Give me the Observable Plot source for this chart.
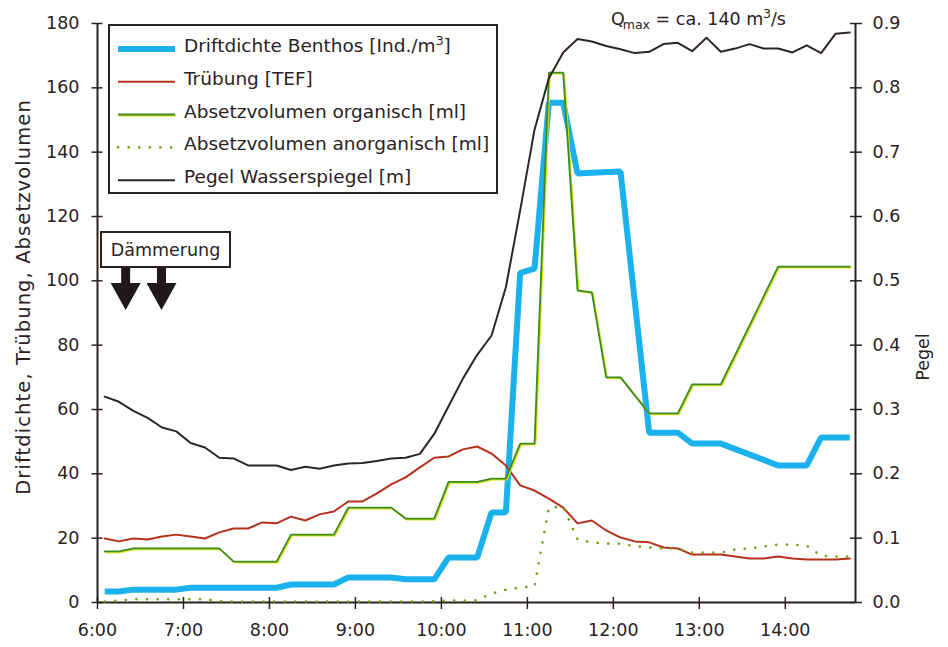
<!DOCTYPE html>
<html>
<head>
<meta charset="utf-8">
<script src="https://cdn.jsdelivr.net/npm/d3@7"></script>
<script src="https://cdn.jsdelivr.net/npm/@observablehq/plot@0.6"></script>
<style>
  html, body { margin: 0; padding: 0; background: #fff; }
  svg { display: block; }
</style>
</head>
<body>
<div id="chart"></div>
<script>
// ---------- data ----------
const hourTicks = [6, 7, 8, 9, 10, 11, 12, 13, 14];
const leftTicks = [0, 20, 40, 60, 80, 100, 120, 140, 160, 180];
const pegelTicks = [0, 0.1, 0.2, 0.3, 0.4, 0.5, 0.6, 0.7, 0.8, 0.9];

const sampleTimes = ["6:05","6:15","6:25","6:35","6:45","6:55","7:05","7:15","7:25","7:35","7:45","7:55",
  "8:05","8:15","8:25","8:35","8:45","8:55","9:05","9:15","9:25","9:35","9:45","9:55",
  "10:05","10:15","10:25","10:35","10:45","10:55","11:05","11:15","11:25","11:35","11:45","11:55",
  "12:05","12:15","12:25","12:35","12:45","12:55","13:05","13:15","13:25","13:35","13:45","13:55",
  "14:05","14:15","14:25","14:35","14:45"];

// Trübung [TEF]
const truebung = [19.9,19.0,19.9,19.6,20.5,21.1,20.5,19.9,21.8,23.0,23.0,24.9,
  24.6,26.7,25.5,27.4,28.3,31.4,31.4,33.9,36.7,38.9,42.0,45.0,
  45.4,47.6,48.5,46.3,42.6,36.4,34.8,32.3,29.5,24.6,25.5,22.4,
  20.2,19.0,18.7,17.1,16.8,14.9,14.9,14.9,14.3,13.7,13.7,14.3,
  13.7,13.4,13.4,13.4,13.7];

// Absetzvolumen anorganisch [ml]
const anorganisch = [0.3,0.6,1.0,1.0,1.0,1.0,1.0,1.0,0.4,0.3,0.3,0.3,
  0.3,0.3,0.3,0.3,0.3,0.3,0.3,0.3,0.3,0.3,0.3,0.4,
  0.6,0.6,0.7,2.8,4.0,4.6,5.0,29.5,29.8,19.6,18.7,18.3,
  18.3,17.5,17.1,16.8,16.8,15.5,15.5,15.5,16.5,16.8,17.4,18.0,
  18.0,17.7,14.5,14.3,14.3];

// Pegel Wasserspiegel [m]
const pegel = [0.320,0.312,0.298,0.287,0.272,0.266,0.248,0.241,0.225,0.224,0.213,0.213,
  0.213,0.206,0.211,0.208,0.213,0.216,0.217,0.220,0.224,0.225,0.231,0.262,
  0.305,0.348,0.385,0.415,0.490,0.610,0.735,0.815,0.855,0.876,0.872,0.865,
  0.860,0.854,0.856,0.868,0.870,0.857,0.878,0.856,0.861,0.868,0.861,0.861,
  0.855,0.866,0.854,0.884,0.886];

// Absetzvolumen organisch [ml]
const organischTimes = ["6:05","6:15","6:25","7:25","7:35","8:05","8:15","8:45","8:55","9:25","9:35","9:55",
  "10:05","10:25","10:35","10:45","10:55","11:05","11:15","11:25","11:35","11:45","11:55","12:05",
  "12:25","12:45","12:55","13:15","13:55","14:45"];
const organisch = [15.9,15.9,16.8,16.8,12.7,12.7,21.1,21.1,29.5,29.5,26.1,26.1,
  37.5,37.5,38.5,38.5,49.4,49.4,164.7,164.7,97.0,96.4,70.0,70.0,
  58.8,58.8,67.8,67.8,104.4,104.4];

// Driftdichte Benthos [Ind./m3]
const driftTimes = ["6:05","6:15","6:25","6:55","7:05","8:05","8:15","8:45","8:55","9:25","9:35","9:55",
  "10:05","10:25","10:35","10:45","10:55","11:05","11:15","11:25","11:35","11:45","12:05",
  "12:25","12:45","12:55","13:15","13:55","14:15","14:25","14:45"];
const drift = [3.4,3.4,4.0,4.0,4.6,4.6,5.6,5.6,7.8,7.8,7.2,7.2,
  14.0,14.0,28.0,28.0,102.5,103.8,155.4,155.4,133.4,133.6,134.0,
  52.8,52.8,49.4,49.4,42.6,42.6,51.3,51.3];

const duskTimes = ["6:20", "6:45"];

const legendLabels = ["Driftdichte Benthos [Ind./m", "Trübung [TEF]", "Absetzvolumen organisch [ml]",
  "Absetzvolumen anorganisch [ml]", "Pegel Wasserspiegel [m]"];

// ---------- helpers ----------
const toH = s => { const [h, m] = s.split(":").map(Number); return h + m / 60; };
const rows = (times, vals) => times.map((t, i) => ({t: toH(t), v: vals[i]}));

const ink = "#2a221f";
const font = "'DejaVu Sans', sans-serif";
const cBlue = "#1bb1ec", cRed = "#b5311a", cGreen = "#3a8c22", cYellow = "#dede18", cDot = "#6ea41a", cBlack = "#2e2623";
const PEG = 200; // 0.9 m <-> 180 units

const xMin = 6, xMax = 14 + 49 / 60;

const chart = Plot.plot({
  width: 948,
  height: 647,
  marginLeft: 97,
  marginRight: 93,
  marginTop: 23,
  marginBottom: 45,
  x: {domain: [xMin, xMax], label: null},
  y: {domain: [0, 180], label: null},
  style: {fontFamily: font, fontSize: "17.5px", color: ink, background: "transparent", overflow: "visible"},
  marks: [
    // frame lines (left, right, bottom)
    Plot.ruleX([xMin], {y1: 0, y2: 180, stroke: ink, strokeWidth: 2}),
    Plot.ruleX([xMax], {y1: 0, y2: 180, stroke: ink, strokeWidth: 2}),
    Plot.ruleY([0], {x1: xMin, x2: xMax, stroke: ink, strokeWidth: 2}),
    // left axis
    Plot.axisY(leftTicks, {anchor: "left", tickSize: 11, dx: 5.5, fill: "none", stroke: ink, strokeWidth: 1.5, label: null}),
    Plot.axisY(leftTicks, {anchor: "left", tickSize: 0, tickPadding: 18, fill: ink, label: null}),
    // right axis (Pegel)
    Plot.axisY(pegelTicks, {anchor: "right", y: d => d * PEG, tickSize: 12, dx: -6, fill: "none", stroke: ink, strokeWidth: 1.5, label: null}),
    Plot.axisY(pegelTicks, {anchor: "right", y: d => d * PEG, tickSize: 0, tickPadding: 17, fill: ink, tickFormat: d => d.toFixed(1), label: null}),
    // bottom axis
    Plot.axisX(hourTicks, {anchor: "bottom", tickSize: 12, dy: -5, fill: "none", stroke: ink, strokeWidth: 1.5, label: null}),
    Plot.axisX(hourTicks, {anchor: "bottom", tickSize: 0, tickPadding: 21, fill: ink, tickFormat: d => `${d}:00`, label: null}),
    // series
    Plot.line(rows(driftTimes, drift), {x: "t", y: "v", stroke: cBlue, strokeWidth: 6, strokeLinejoin: "miter", strokeLinecap: "butt"}),
    Plot.line(rows(sampleTimes, truebung), {x: "t", y: "v", stroke: cRed, strokeWidth: 2}),
    Plot.line(rows(organischTimes, organisch), {x: "t", y: "v", stroke: cYellow, strokeWidth: 1.8, dx: 1, dy: 1, strokeLinejoin: "miter"}),
    Plot.line(rows(organischTimes, organisch), {x: "t", y: "v", stroke: cGreen, strokeWidth: 1.8, strokeLinejoin: "miter"}),
    Plot.line(rows(sampleTimes, anorganisch), {x: "t", y: "v", stroke: cDot, strokeWidth: 2.6, strokeDasharray: "0.1,10.5", strokeLinecap: "round"}),
    Plot.line(rows(sampleTimes, pegel), {x: "t", y: d => d.v * PEG, stroke: cBlack, strokeWidth: 2})
  ]
});

document.getElementById("chart").appendChild(chart);

// ---------- annotations ----------
const svg = d3.select(chart);
const xs = chart.scale("x");

// axis titles
svg.append("text").attr("transform", "translate(30,297) rotate(-90)")
  .attr("text-anchor", "middle").attr("font-family", font).attr("font-size", 19.5)
  .attr("letter-spacing", 1.1).attr("fill", ink)
  .text("Driftdichte, Trübung, Absetzvolumen");
svg.append("text").attr("transform", "translate(929,357) rotate(-90)")
  .attr("text-anchor", "middle").attr("font-family", font).attr("font-size", 17.5).attr("fill", ink)
  .text("Pegel");

// Q max note
const q = svg.append("text").attr("x", 611).attr("y", 25).attr("fill", ink).attr("text-anchor", "start")
  .attr("font-family", font).attr("font-size", 17.5);
q.append("tspan").text("Q");
q.append("tspan").attr("dx", -2).attr("dy", 4).attr("font-size", 12.5).text("max");
q.append("tspan").attr("dy", -4).text(" = ca. 140 m");
q.append("tspan").attr("dy", -7).attr("font-size", 12).text("3");
q.append("tspan").attr("dy", 7).text("/s");

// legend box
const lg = svg.append("g").attr("font-family", font).attr("font-size", 18.5).attr("fill", ink).attr("text-anchor", "start");
lg.append("rect").attr("x", 109).attr("y", 25).attr("width", 388).attr("height", 168)
  .attr("fill", "#fff").attr("stroke", ink).attr("stroke-width", 2);
const styles = [
  {stroke: cBlue, w: 6},
  {stroke: cRed, w: 2},
  {stroke: cGreen, w: 2, under: cYellow},
  {stroke: cDot, w: 2.6, dash: "0.1,10.5"},
  {stroke: cBlack, w: 2}
];
legendLabels.forEach((lab, i) => {
  const y = 49 + i * 32.8;
  const s = styles[i];
  if (s.under) lg.append("line").attr("x1", 119).attr("x2", 176).attr("y1", y + 1).attr("y2", y + 1).attr("stroke", s.under).attr("stroke-width", s.w);
  lg.append("line").attr("x1", 118).attr("x2", 175).attr("y1", y).attr("y2", y)
    .attr("stroke", s.stroke).attr("stroke-width", s.w)
    .attr("stroke-dasharray", s.dash || null).attr("stroke-linecap", s.dash ? "round" : "butt");
  const t = lg.append("text").attr("x", 184).attr("y", y + 3);
  t.append("tspan").text(lab);
  if (i === 0) {
    t.append("tspan").attr("dy", -7).attr("font-size", 12.5).text("3");
    t.append("tspan").attr("dy", 7).text("]");
  }
});

// Dämmerung box and arrows
const dg = svg.append("g");
dg.append("rect").attr("x", 101).attr("y", 232).attr("width", 129).attr("height", 35)
  .attr("fill", "#fff").attr("stroke", ink).attr("stroke-width", 2);
dg.append("text").attr("x", 165.5).attr("y", 256).attr("text-anchor", "middle")
  .attr("font-family", font).attr("font-size", 17.5).attr("fill", ink).text("Dämmerung");
duskTimes.forEach(t => {
  const cx = xs.apply(toH(t));
  dg.append("path")
    .attr("d", `M${cx - 4.5},268 V283 H${cx - 15} L${cx},310 L${cx + 15},283 H${cx + 4.5} V268 Z`)
    .attr("fill", "#1e1a19");
});
</script>
</body>
</html>
